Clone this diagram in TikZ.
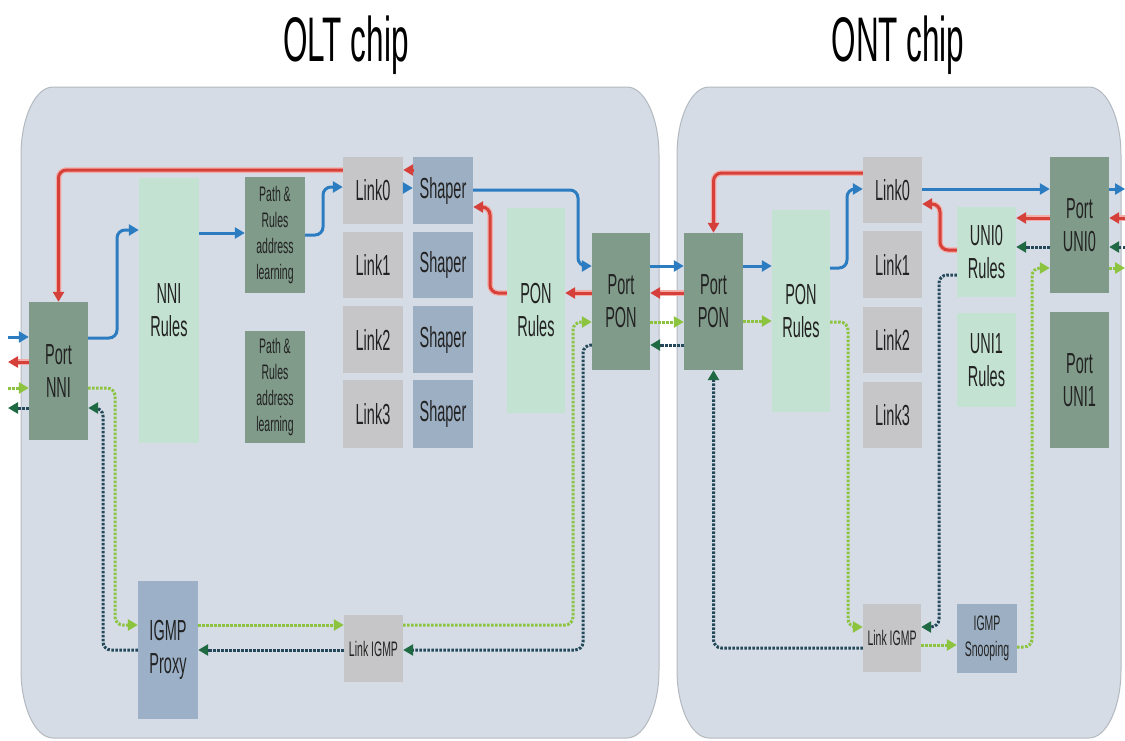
\documentclass[tikz,border=0pt]{standalone}
\usepackage{fontspec}
\setmainfont{Liberation Sans}[FakeStretch=0.5]
\usetikzlibrary{arrows.meta}
\definecolor{cpanel}{HTML}{D5DCE6}
\definecolor{cpanelb}{HTML}{B4B9C0}
\definecolor{cport}{HTML}{809B8A}
\definecolor{crules}{HTML}{C4E2D1}
\definecolor{clink}{HTML}{C6C6C8}
\definecolor{cshaper}{HTML}{9DB0C3}
\definecolor{cigmp}{HTML}{9CB1C8}
\definecolor{cblue}{HTML}{2B7CC0}
\definecolor{cred}{HTML}{D5403A}
\definecolor{cpink}{HTML}{F3ACA6}
\definecolor{clg}{HTML}{8CC43F}
\definecolor{cdk}{HTML}{24495A}
\definecolor{cdkt}{HTML}{1F6A43}
\definecolor{ctext}{HTML}{222222}
\tikzset{
  box/.style={fill=#1, draw=none, inner sep=0pt, align=center, text=ctext,
    font=\fontsize{29}{33}\selectfont},
  smallbox/.style={box=#1, font=\fontsize{21}{26}\selectfont},
  panel/.style={fill=cpanel, draw=cpanelb, line width=1pt},
  conn/.style={line width=3pt, rounded corners=8pt},
  blu/.style={conn, draw=cblue, -{Triangle[length=10pt,width=11pt]}},
  rd/.style={conn, draw=cred, -{Triangle[length=10pt,width=11pt]},
    preaction={draw=cpink, line width=5.5pt, -, shorten >=9pt}},
  lg/.style={conn, draw=clg, dash pattern=on 2.5pt off 1.5pt, -{Triangle[length=10pt,width=11pt]}},
  dk/.style={conn, draw=cdk, dash pattern=on 2.5pt off 1.5pt, -{Triangle[length=10pt,width=11pt,color=cdkt]}},
  ttl/.style={font=\fontsize{63}{70}\selectfont, text=black, inner sep=0pt}
}
\begin{document}
\begin{tikzpicture}[x=1pt,y=-1pt]
\useasboundingbox[fill=white] (0,0) rectangle (1125,740);
% panels
\path[panel] (21,155) -- (21,670) .. controls (21,707.4) and (35.4,738) .. (53,738)
  -- (627,738) .. controls (644.6,738) and (659,707.4) .. (659,670)
  -- (659,155) .. controls (659,117.6) and (644.6,87) .. (627,87)
  -- (53,87) .. controls (35.4,87) and (21,117.6) .. (21,155) -- cycle;
\path[panel] (677,155) -- (677,670) .. controls (677,707.4) and (691.4,738) .. (709,738)
  -- (1089,738) .. controls (1106.6,738) and (1121,707.4) .. (1121,670)
  -- (1121,155) .. controls (1121,117.6) and (1106.6,87) .. (1089,87)
  -- (709,87) .. controls (691.4,87) and (677,117.6) .. (677,155) -- cycle;
\node[ttl] (tOLT) at (346,45) {OLT chip};
\node[ttl] (tONT) at (898,45) {ONT chip};

% OLT nodes
\node[box=cport, minimum width=59pt, minimum height=138pt] (PortNNI) at (58.5,371) {Port\\NNI};
\node[box=crules, minimum width=60pt, minimum height=265pt] (NNIRules) at (169,310.5) {NNI\\Rules};
\node[smallbox=cport, minimum width=60pt, minimum height=116pt] (PathA) at (275,235) {Path \&\\Rules\\address\\learning};
\node[smallbox=cport, minimum width=60pt, minimum height=112pt] (PathB) at (275,387) {Path \&\\Rules\\address\\learning};
\node[box=clink, minimum width=60pt, minimum height=67pt] (LinkO0) at (373,190.5) {Link0};
\node[box=clink, minimum width=60pt, minimum height=66pt] (LinkO1) at (373,265) {Link1};
\node[box=clink, minimum width=60pt, minimum height=67pt] (LinkO2) at (373,339.5) {Link2};
\node[box=clink, minimum width=60pt, minimum height=68pt] (LinkO3) at (373,414) {Link3};
\node[box=cshaper, minimum width=60pt, minimum height=67pt] (ShapO0) at (443,190.5) {Shaper};
\node[box=cshaper, minimum width=60pt, minimum height=66pt] (ShapO1) at (443,265) {Shaper};
\node[box=cshaper, minimum width=60pt, minimum height=67pt] (ShapO2) at (443,339.5) {Shaper};
\node[box=cshaper, minimum width=60pt, minimum height=68pt] (ShapO3) at (443,414) {Shaper};
\node[box=crules, minimum width=58pt, minimum height=205pt] (PONRulesO) at (536,310.5) {PON\\Rules};
\node[box=cport, minimum width=58pt, minimum height=137pt] (PortPONO) at (621,301.5) {Port\\PON};
\node[box=cigmp, minimum width=60pt, minimum height=138pt] (IGMPProxy) at (168,650) {IGMP\\Proxy};
\node[smallbox=clink, minimum width=59pt, minimum height=67pt] (LinkIGMPO) at (373.5,648.5) {Link IGMP};

% ONT nodes
\node[box=cport, minimum width=59pt, minimum height=137pt] (PortPONN) at (713.5,301.5) {Port\\PON};
\node[box=crules, minimum width=58pt, minimum height=202pt] (PONRulesN) at (801,311) {PON\\Rules};
\node[box=clink, minimum width=59pt, minimum height=66pt] (LinkN0) at (892.5,190) {Link0};
\node[box=clink, minimum width=59pt, minimum height=67pt] (LinkN1) at (892.5,264.5) {Link1};
\node[box=clink, minimum width=59pt, minimum height=66pt] (LinkN2) at (892.5,340) {Link2};
\node[box=clink, minimum width=59pt, minimum height=66pt] (LinkN3) at (892.5,415) {Link3};
\node[box=crules, minimum width=59pt, minimum height=90pt] (UNI0R) at (986.5,252) {UNI0\\Rules};
\node[box=crules, minimum width=59pt, minimum height=94pt] (UNI1R) at (986.5,360) {UNI1\\Rules};
\node[box=cport, minimum width=59pt, minimum height=136pt] (PortUNI0) at (1079.5,225) {Port\\UNI0};
\node[box=cport, minimum width=59pt, minimum height=136pt] (PortUNI1) at (1079.5,380) {Port\\UNI1};
\node[smallbox=clink, minimum width=58pt, minimum height=68pt] (LinkIGMPN) at (892,638) {Link IGMP};
\node[smallbox=cshaper, minimum width=60pt, minimum height=69pt] (IGMPSnoop) at (987,638.5) {IGMP\\Snooping};

% free ends
\coordinate (eB) at (8,337);
\coordinate (eR) at (8,362);
\coordinate (eG) at (8,388);
\coordinate (eD) at (8,408);
\coordinate (fB) at (1125,189);
\coordinate (fR) at (1125,218);
\coordinate (fD) at (1125,247);
\coordinate (fG) at (1125,268);

% OLT connectors
\draw[blu] (eB) -- (PortNNI.west |- eB);
\draw[rd] (PortNNI.west |- eR) -- (eR);
\draw[lg] (eG) -- (PortNNI.west |- eG);
\draw[dk] (PortNNI.west |- eD) -- (eD);

\draw[blu] (PortNNI.east |- 0,338) -- (117,338) -- (117,230) -- (NNIRules.west |- 0,230);
\draw[blu] (NNIRules.east |- 0,233) -- (PathA.west |- 0,233);
\draw[blu] (PathA.east |- 0,235) -- (323,235) -- (323,187) -- (LinkO0.west |- 0,187);
\draw[rd] (LinkO0.west |- 0,170) -- (PortNNI.north |- 0,170) -- (PortNNI.north);
\draw[rd] (ShapO0.west |- 0,170) -- (LinkO0.east |- 0,170);
\draw[blu] (LinkO0.east |- 0,188) -- (ShapO0.west |- 0,188);
\draw[blu] (ShapO0.east |- 0,190) -- (578,190) -- (578,266) -- (PortPONO.west |- 0,266);
\draw[rd] (PortPONO.west |- 0,293) -- (PONRulesO.east |- 0,293);
\draw[rd] (PONRulesO.west |- 0,293) -- (490,293) -- (490,207) -- (ShapO0.east |- 0,207);

\draw[lg] (PortNNI.east |- 0,388) -- (115,388) -- (115,625) -- (IGMPProxy.west |- 0,625);
\draw[lg] (IGMPProxy.east |- 0,625) -- (LinkIGMPO.west |- 0,625);
\draw[lg] (LinkIGMPO.east |- 0,625) -- (573,625) -- (573,322) -- (PortPONO.west |- 0,322);
\draw[dk] (PortPONO.west |- 0,345) -- (583,345) -- (583,650) -- (LinkIGMPO.east |- 0,650);
\draw[dk] (LinkIGMPO.west |- 0,650) -- (IGMPProxy.east |- 0,650);
\draw[dk] (IGMPProxy.west |- 0,650) -- (103,650) -- (103,408) -- (PortNNI.east |- 0,408);

% between chips
\draw[blu] (PortPONO.east |- 0,266) -- (PortPONN.west |- 0,266);
\draw[rd] (PortPONN.west |- 0,293) -- (PortPONO.east |- 0,293);
\draw[lg] (PortPONO.east |- 0,322) -- (PortPONN.west |- 0,322);
\draw[dk] (PortPONN.west |- 0,345) -- (PortPONO.east |- 0,345);

% ONT connectors
\draw[blu] (PortPONN.east |- 0,266) -- (PONRulesN.west |- 0,266);
\draw[lg] (PortPONN.east |- 0,321) -- (PONRulesN.west |- 0,321);
\draw[blu] (PONRulesN.east |- 0,268) -- (847,268) -- (847,189) -- (LinkN0.west |- 0,189);
\draw[rd] (LinkN0.west |- 0,173) -- (PortPONN.north |- 0,173) -- (PortPONN.north);
\draw[blu] (LinkN0.east |- 0,189) -- (PortUNI0.west |- 0,189);
\draw[rd] (PortUNI0.west |- 0,218) -- (UNI0R.east |- 0,218);
\draw[rd] (UNI0R.west |- 0,250) -- (940,250) -- (940,204) -- (LinkN0.east |- 0,204);
\draw[dk] (PortUNI0.west |- 0,247) -- (UNI0R.east |- 0,247);
\draw[lg] (PONRulesN.east |- 0,322) -- (848,322) -- (848,627) -- (LinkIGMPN.west |- 0,627);
\draw[dk] (UNI0R.west |- 0,275) -- (939,275) -- (939,627) -- (LinkIGMPN.east |- 0,627);
\draw[lg] (LinkIGMPN.east |- 0,645) -- (IGMPSnoop.west |- 0,645);
\draw[dk] (LinkIGMPN.west |- 0,648) -- (PortPONN.south |- 0,648) -- (PortPONN.south);
\draw[lg] (IGMPSnoop.east |- 0,647) -- (1032,647) -- (1032,268) -- (PortUNI0.west |- 0,268);

\draw[blu] (PortUNI0.east |- fB) -- (fB);
\draw[rd] (fR) -- (PortUNI0.east |- fR);
\draw[dk] (fD) -- (PortUNI0.east |- fD);
\draw[lg] (PortUNI0.east |- fG) -- (fG);
\end{tikzpicture}
\end{document}
